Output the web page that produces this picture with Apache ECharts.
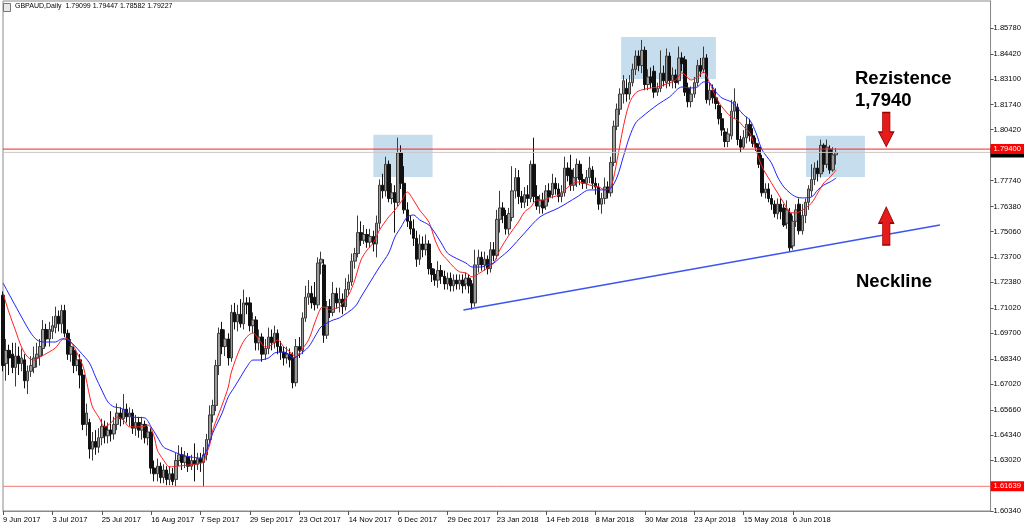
<!DOCTYPE html>
<html>
<head>
<meta charset="utf-8">
<script src="https://cdn.jsdelivr.net/npm/echarts@6/dist/echarts.min.js"></script>
<style>html,body{margin:0;padding:0;background:#fff}#c{width:1024px;height:530px}</style>
</head>
<body>
<div id="c"></div>
<script>
// ---- data (daily bars, index 0 = 9 Jun 2017) ----
const xLabels = ['9 Jun 2017','3 Jul 2017','25 Jul 2017','16 Aug 2017','7 Sep 2017','29 Sep 2017','23 Oct 2017','14 Nov 2017','6 Dec 2017','29 Dec 2017','23 Jan 2018','14 Feb 2018','8 Mar 2018','30 Mar 2018','23 Apr 2018','15 May 2018','6 Jun 2018'];
const barsPerLabel = 16;
const yTickLabels = ['1.60340','1.63020','1.64340','1.65660','1.67020','1.68340','1.69700','1.71020','1.72380','1.73700','1.75060','1.76380','1.77740','1.80420','1.81740','1.83100','1.84420','1.85780'];
const yTickMarks = ['1.60340','1.61660','1.63020','1.64340','1.65660','1.67020','1.68340','1.69700','1.71020','1.72380','1.73700','1.75060','1.76380','1.77740','1.79060','1.80420','1.81740','1.83100','1.84420','1.85780'];

const opens = [
1.717,1.681,1.688,1.686,1.679,1.685,1.681,1.683,1.672,1.677,
1.679,1.684,1.685,1.689,1.699,1.694,1.698,1.700,1.706,1.702,
1.709,1.697,1.686,1.688,1.680,1.683,1.675,1.649,1.650,1.636,
1.640,1.637,1.642,1.648,1.643,1.646,1.644,1.649,1.655,1.652,
1.657,1.653,1.655,1.647,1.650,1.646,1.649,1.642,1.645,1.626,
1.623,1.627,1.621,1.625,1.620,1.623,1.620,1.630,1.633,1.629,
1.632,1.627,1.630,1.628,1.631,1.629,1.633,1.641,1.654,1.659,
1.680,1.699,1.690,1.694,1.684,1.708,1.703,1.707,1.702,1.713,
1.713,1.701,1.704,1.692,1.695,1.686,1.689,1.695,1.692,1.697,
1.690,1.687,1.684,1.686,1.684,1.671,1.690,1.688,1.705,1.716,
1.718,1.716,1.712,1.734,1.733,1.696,1.711,1.708,1.718,1.713,
1.715,1.711,1.720,1.724,1.735,1.739,1.750,1.746,1.749,1.745,
1.748,1.744,1.755,1.775,1.772,1.786,1.768,1.771,1.766,1.792,
1.776,1.762,1.756,1.752,1.747,1.736,1.744,1.741,1.744,1.731,
1.728,1.725,1.730,1.727,1.723,1.726,1.722,1.725,1.723,1.725,
1.723,1.726,1.723,1.713,1.733,1.737,1.733,1.736,1.731,1.741,
1.738,1.757,1.763,1.759,1.752,1.758,1.772,1.779,1.769,1.766,
1.770,1.768,1.786,1.769,1.764,1.767,1.764,1.772,1.770,1.776,
1.773,1.769,1.771,1.784,1.783,1.775,1.779,1.786,1.778,1.776,
1.779,1.783,1.776,1.774,1.765,1.768,1.774,1.771,1.787,1.806,
1.815,1.823,1.826,1.823,1.829,1.836,1.843,1.838,1.846,1.828,
1.832,1.835,1.824,1.826,1.834,1.829,1.843,1.830,1.833,1.830,
1.842,1.841,1.826,1.819,1.823,1.829,1.838,1.836,1.842,1.820,
1.825,1.821,1.817,1.810,1.803,1.798,1.801,1.814,1.816,1.799,
1.795,1.800,1.807,1.801,1.797,1.795,1.789,1.771,1.773,1.768,
1.765,1.760,1.765,1.763,1.755,1.760,1.743,1.756,1.765,1.751,
1.759,1.766,1.772,1.778,1.784,1.781,1.796,1.786,1.794,1.783,
1.79099];
const highs = [
1.719,1.694,1.691,1.692,1.692,1.690,1.689,1.686,1.680,1.685,
1.690,1.692,1.694,1.704,1.702,1.703,1.706,1.711,1.709,1.712,
1.712,1.699,1.694,1.690,1.687,1.686,1.678,1.660,1.652,1.645,
1.646,1.647,1.652,1.651,1.650,1.656,1.653,1.660,1.658,1.665,
1.660,1.658,1.657,1.654,1.653,1.653,1.651,1.648,1.647,1.630,
1.631,1.629,1.628,1.627,1.627,1.626,1.634,1.638,1.637,1.635,
1.634,1.633,1.639,1.634,1.634,1.637,1.644,1.659,1.662,1.683,
1.700,1.703,1.699,1.697,1.712,1.713,1.712,1.715,1.720,1.716,
1.716,1.708,1.706,1.699,1.697,1.694,1.700,1.699,1.701,1.699,
1.693,1.690,1.690,1.689,1.687,1.694,1.695,1.708,1.722,1.725,
1.722,1.724,1.737,1.740,1.736,1.714,1.715,1.724,1.721,1.721,
1.718,1.726,1.728,1.739,1.742,1.759,1.756,1.754,1.752,1.752,
1.751,1.759,1.778,1.781,1.790,1.788,1.776,1.775,1.800,1.796,
1.785,1.766,1.759,1.757,1.751,1.749,1.748,1.749,1.746,1.734,
1.731,1.735,1.733,1.730,1.729,1.729,1.728,1.728,1.728,1.728,
1.729,1.728,1.725,1.741,1.741,1.740,1.740,1.738,1.745,1.745,
1.762,1.772,1.766,1.762,1.763,1.785,1.784,1.783,1.772,1.774,
1.775,1.788,1.800,1.775,1.770,1.771,1.775,1.776,1.781,1.779,
1.776,1.775,1.790,1.787,1.791,1.784,1.789,1.788,1.781,1.783,
1.790,1.785,1.779,1.776,1.771,1.779,1.777,1.790,1.809,1.818,
1.826,1.833,1.831,1.833,1.839,1.846,1.846,1.8515,1.848,1.836,
1.837,1.838,1.829,1.846,1.838,1.847,1.845,1.837,1.836,1.848,
1.845,1.843,1.829,1.827,1.832,1.841,1.842,1.848,1.844,1.829,
1.828,1.826,1.819,1.813,1.805,1.805,1.820,1.826,1.818,1.801,
1.804,1.811,1.810,1.805,1.800,1.797,1.791,1.776,1.776,1.770,
1.767,1.768,1.768,1.765,1.767,1.763,1.759,1.765,1.768,1.765,
1.768,1.775,1.786,1.787,1.788,1.799,1.797,1.799,1.796,1.795,
1.79447];
const lows = [
1.677,1.672,1.675,1.676,1.669,1.675,1.677,1.668,1.665,1.674,
1.676,1.679,1.680,1.685,1.690,1.690,1.694,1.697,1.698,1.697,
1.695,1.683,1.682,1.676,1.677,1.668,1.646,1.643,1.631,1.630,
1.633,1.634,1.638,1.639,1.639,1.640,1.641,1.646,1.648,1.649,
1.650,1.648,1.644,1.643,1.642,1.641,1.639,1.638,1.623,1.619,
1.619,1.618,1.618,1.617,1.617,1.617,1.6164,1.627,1.625,1.626,
1.624,1.625,1.619,1.625,1.624,1.6164,1.630,1.639,1.650,1.656,
1.675,1.686,1.685,1.680,1.682,1.699,1.698,1.700,1.699,1.707,
1.698,1.697,1.688,1.688,1.682,1.683,1.686,1.688,1.689,1.686,
1.683,1.680,1.681,1.679,1.668,1.669,1.684,1.686,1.703,1.712,
1.710,1.709,1.710,1.728,1.692,1.694,1.705,1.706,1.710,1.708,
1.707,1.709,1.717,1.722,1.731,1.737,1.743,1.744,1.742,1.742,
1.740,1.737,1.752,1.768,1.769,1.766,1.765,1.750,1.764,1.773,
1.760,1.753,1.749,1.743,1.732,1.733,1.737,1.738,1.728,1.724,
1.722,1.721,1.723,1.720,1.720,1.719,1.719,1.720,1.720,1.718,
1.720,1.718,1.7095,1.711,1.729,1.730,1.730,1.728,1.729,1.735,
1.736,1.750,1.755,1.749,1.749,1.756,1.768,1.765,1.763,1.763,
1.764,1.766,1.766,1.762,1.760,1.760,1.762,1.766,1.768,1.770,
1.766,1.766,1.769,1.777,1.772,1.772,1.774,1.775,1.773,1.773,
1.776,1.773,1.770,1.762,1.760,1.765,1.768,1.769,1.785,1.804,
1.812,1.818,1.819,1.820,1.827,1.833,1.835,1.834,1.825,1.825,
1.826,1.821,1.822,1.824,1.827,1.826,1.827,1.826,1.826,1.828,
1.835,1.822,1.816,1.816,1.821,1.827,1.832,1.834,1.818,1.817,
1.818,1.815,1.807,1.801,1.795,1.795,1.799,1.810,1.796,1.792,
1.794,1.797,1.798,1.795,1.793,1.784,1.769,1.768,1.766,1.762,
1.758,1.757,1.757,1.753,1.752,1.7398,1.741,1.753,1.749,1.749,
1.755,1.762,1.769,1.775,1.777,1.779,1.782,1.784,1.781,1.782,
1.78582];
const closes = [
1.680,1.688,1.684,1.679,1.685,1.681,1.684,1.672,1.677,1.680,
1.684,1.686,1.690,1.699,1.694,1.699,1.701,1.706,1.702,1.709,
1.697,1.686,1.690,1.680,1.683,1.675,1.649,1.655,1.636,1.640,
1.637,1.642,1.648,1.643,1.646,1.644,1.649,1.655,1.652,1.657,
1.653,1.655,1.647,1.650,1.646,1.649,1.642,1.645,1.626,1.623,
1.627,1.621,1.625,1.620,1.623,1.619,1.630,1.633,1.629,1.632,
1.627,1.630,1.628,1.631,1.629,1.633,1.641,1.654,1.659,1.680,
1.697,1.690,1.694,1.684,1.708,1.703,1.707,1.702,1.713,1.712,
1.701,1.704,1.692,1.695,1.686,1.689,1.695,1.692,1.697,1.690,
1.687,1.684,1.686,1.683,1.671,1.690,1.688,1.705,1.716,1.718,
1.713,1.712,1.734,1.736,1.696,1.711,1.708,1.718,1.713,1.715,
1.711,1.720,1.724,1.735,1.739,1.750,1.746,1.749,1.745,1.748,
1.744,1.755,1.775,1.772,1.786,1.768,1.771,1.766,1.792,1.776,
1.762,1.756,1.752,1.747,1.736,1.744,1.741,1.744,1.731,1.728,
1.725,1.730,1.727,1.723,1.726,1.722,1.725,1.723,1.725,1.722,
1.726,1.722,1.713,1.733,1.737,1.733,1.736,1.731,1.741,1.738,
1.757,1.763,1.759,1.752,1.760,1.772,1.779,1.769,1.766,1.770,
1.768,1.786,1.769,1.764,1.767,1.763,1.772,1.769,1.776,1.773,
1.769,1.771,1.784,1.780,1.775,1.779,1.786,1.778,1.776,1.779,
1.784,1.776,1.774,1.765,1.768,1.774,1.771,1.787,1.806,1.815,
1.823,1.830,1.823,1.829,1.836,1.843,1.838,1.846,1.828,1.832,
1.829,1.824,1.826,1.834,1.830,1.843,1.830,1.833,1.829,1.842,
1.839,1.824,1.819,1.823,1.829,1.838,1.835,1.842,1.820,1.825,
1.821,1.818,1.810,1.804,1.798,1.802,1.814,1.819,1.799,1.795,
1.800,1.807,1.801,1.797,1.795,1.786,1.771,1.773,1.768,1.765,
1.760,1.765,1.761,1.754,1.762,1.742,1.756,1.762,1.751,1.759,
1.766,1.773,1.778,1.784,1.781,1.796,1.786,1.795,1.783,1.791,
1.79227];

// moving averages: [bar index, price]
const maRed = [[0,1.7182],[2,1.7077],[4,1.6987],[6,1.6898],[8,1.6845],[10,1.6829],[12,1.6845],[15,1.6872],[17,1.6893],[19,1.6935],[20,1.6945],[22,1.6924],[24,1.6866],[26,1.6793],[27,1.6724],[28,1.6645],[29,1.6582],[31,1.6529],[33,1.6477],[35,1.6498],[37,1.6529],[39,1.6513],[41,1.6477],[45,1.6477],[47,1.6487],[49,1.6424],[50,1.6355],[52,1.6303],[54,1.6266],[57,1.6271],[60,1.6276],[63,1.6282],[65,1.6292],[66,1.6340],[67,1.6382],[68,1.6461],[71,1.6592],[73,1.6687],[74,1.6766],[77,1.6898],[79,1.6951],[81,1.6972],[83,1.6935],[85,1.6898],[87,1.6908],[89,1.6935],[91,1.6898],[93,1.6872],[95,1.6845],[96,1.6866],[99,1.6935],[101,1.7024],[103,1.7103],[104,1.7108],[106,1.7093],[108,1.7103],[109,1.7108],[112,1.7172],[114,1.7251],[116,1.7356],[118,1.7409],[120,1.7446],[122,1.7514],[125,1.7583],[127,1.7619],[129,1.7662],[131,1.7714],[133,1.7672],[135,1.7619],[138,1.7556],[140,1.7461],[142,1.7393],[144,1.7356],[146,1.7319],[148,1.7293],[150,1.7288],[152,1.7267],[155,1.7293],[157,1.7314],[159,1.7340],[161,1.7409],[164,1.7488],[167,1.7556],[169,1.7609],[171,1.7635],[173,1.7672],[175,1.7672],[177,1.7683],[180,1.7698],[182,1.7725],[184,1.7751],[186,1.7767],[188,1.7762],[190,1.7751],[193,1.7741],[195,1.7725],[197,1.7741],[199,1.7883],[201,1.8057],[203,1.8183],[205,1.8236],[207,1.8252],[210,1.8262],[212,1.8267],[214,1.8278],[216,1.8288],[218,1.8304],[220,1.8341],[223,1.8304],[225,1.8320],[227,1.8346],[229,1.8288],[231,1.8215],[233,1.8162],[236,1.8109],[238,1.8093],[240,1.8057],[242,1.8025],[244,1.7935],[246,1.7846],[249,1.7762],[251,1.7709],[253,1.7656],[255,1.7609],[257,1.7604],[259,1.7619],[262,1.7656],[264,1.7709],[266,1.7762],[268,1.7793],[270,1.7830]];
const maBlue = [[0,1.7235],[3,1.7145],[6,1.7056],[9,1.6972],[11,1.6935],[13,1.6924],[17,1.6924],[19,1.6940],[21,1.6935],[23,1.6908],[25,1.6872],[28,1.6814],[30,1.6740],[32,1.6671],[34,1.6608],[36,1.6582],[38,1.6577],[40,1.6556],[42,1.6529],[46,1.6524],[48,1.6477],[50,1.6424],[52,1.6371],[54,1.6355],[58,1.6329],[61,1.6318],[64,1.6313],[66,1.6355],[68,1.6445],[71,1.6550],[73,1.6635],[75,1.6687],[77,1.6740],[79,1.6793],[81,1.6829],[83,1.6829],[86,1.6840],[88,1.6866],[90,1.6872],[92,1.6866],[94,1.6840],[96,1.6856],[99,1.6898],[101,1.6950],[103,1.7003],[105,1.7024],[107,1.7040],[109,1.7051],[114,1.7109],[116,1.7161],[118,1.7214],[120,1.7267],[122,1.7319],[125,1.7393],[127,1.7477],[129,1.7530],[131,1.7583],[133,1.7593],[135,1.7567],[138,1.7540],[140,1.7498],[142,1.7446],[144,1.7393],[146,1.7372],[148,1.7356],[150,1.7340],[152,1.7319],[155,1.7319],[157,1.7330],[159,1.7340],[161,1.7367],[164,1.7409],[169,1.7498],[174,1.7583],[180,1.7630],[186,1.7688],[190,1.7725],[195,1.7725],[197,1.7735],[199,1.7793],[201,1.7899],[203,1.8004],[205,1.8078],[207,1.8109],[212,1.8173],[216,1.8215],[220,1.8267],[223,1.8262],[225,1.8267],[227,1.8294],[229,1.8288],[231,1.8241],[233,1.8209],[236,1.8188],[238,1.8157],[240,1.8120],[242,1.8093],[244,1.8025],[246,1.7935],[249,1.7867],[251,1.7793],[253,1.7741],[255,1.7709],[257,1.7688],[259,1.7683],[262,1.7688],[264,1.7725],[266,1.7751],[268,1.7767],[270,1.7788]];

const neckline = [[149.2,1.7093],[303.6,1.7540]];
const resistance = 1.7940;
const bidPrice = 1.79227;
const lowLevel = 1.61639;
// highlighted zones: [startBar, endBar, lowPrice, highPrice]
const zones = [[120,139.2,1.7793,1.8015],[200.3,231,1.8309,1.8531],[260.2,279.3,1.7793,1.8010]];
// arrow annotations: [bar, price]
const arrowDown = [286.2,1.8043];
const arrowUp = [286.2,1.7535];

// ---- build ----
const candleData = opens.map((o,i)=>[i,o,closes[i],lows[i],highs[i]]);
const FONT = '"Liberation Sans", Arial, sans-serif';
const X_MAX = 320;
const chart = echarts.init(document.getElementById('c'), null, {renderer:'canvas'});
function levelSeries(v, lineColor, bg, z){
  return {
    type:'line',data:[[0,v],[X_MAX,v]],silent:true,z:z,showSymbol:false,symbol:'none',clip:false,
    lineStyle:{color:lineColor,width:1,type:'solid'},
    emphasis:{disabled:true},
    endLabel:{show:true,distance:0,formatter:v.toFixed(5),color:'#fff',backgroundColor:bg,padding:[1,4,1,3],fontSize:7.6,fontFamily:FONT}
  };
}
const option = {
  animation:false,
  backgroundColor:'#ffffff',
  grid:{left:2,right:33,top:1,bottom:19,show:true,borderColor:'#8a8a8a',borderWidth:1,backgroundColor:'#fff'},
  xAxis:{
    type:'value',min:0,max:X_MAX,
    axisLine:{show:true,onZero:false,lineStyle:{color:'#8a8a8a'}},
    splitLine:{show:false},
    axisTick:{show:true,length:4,customValues:xLabels.map((_,k)=>k*barsPerLabel),lineStyle:{color:'#555'}},
    axisLabel:{show:true,customValues:xLabels.map((_,k)=>k*barsPerLabel),formatter:v=>xLabels[Math.round(v/barsPerLabel)]||'',align:'left',margin:5,fontSize:7.6,color:'#000',fontFamily:FONT}
  },
  yAxis:{
    type:'value',position:'right',min:1.6034,max:1.8720,scale:true,
    axisLine:{show:true,onZero:false,lineStyle:{color:'#8a8a8a'}},
    splitLine:{show:false},
    axisTick:{show:true,inside:false,length:3,customValues:yTickMarks.map(Number),lineStyle:{color:'#555'}},
    axisLabel:{show:true,customValues:yTickLabels.map(Number),formatter:v=>v.toFixed(5),margin:3,fontSize:7.6,color:'#000',fontFamily:FONT}
  },
  series:[
    {
      type:'line',data:[],silent:true,z:1,
      markArea:{silent:true,z:1,itemStyle:{color:'#c6ddee'},
        data:zones.map(z=>[{coord:[z[0],z[3]]},{coord:[z[1],z[2]]}])}
    },
    {
      type:'candlestick',data:candleData,barWidth:3,z:2,silent:true,
      itemStyle:{color:'#9b9b9b',color0:'#111111',borderColor:'#3c3c3c',borderColor0:'#111111',borderWidth:1}
    },
    {type:'line',data:maRed,smooth:0.3,showSymbol:false,silent:true,z:3,lineStyle:{color:'#ff1f1f',width:1}},
    {type:'line',data:maBlue,smooth:0.3,showSymbol:false,silent:true,z:3,lineStyle:{color:'#2222ff',width:1}},
    {type:'line',data:neckline,showSymbol:false,silent:true,z:4,lineStyle:{color:'#3d55ee',width:1.5}},
    levelSeries(bidPrice,'#c8c8c8','#000000',5),
    levelSeries(resistance,'#ff2020','#ff0000',6),
    levelSeries(lowLevel,'#f07878','#ff0000',6),
    {
      type:'line',data:[],silent:true,z:7,
      markPoint:{silent:true,z:7,label:{show:false},
        itemStyle:{color:'#e51c1c',borderColor:'#9a0000',borderWidth:1},
        data:[
          {coord:arrowDown,symbol:'path://M3.5,0 L10.5,0 L10.5,19 L14,19 L7,33 L0,19 L3.5,19 Z',symbolSize:[15,34]},
          {coord:arrowUp,symbol:'path://M7,0 L14,14 L10.5,14 L10.5,33 L3.5,33 L3.5,14 L0,14 Z',symbolSize:[15,38]}
        ]}
    }
  ],
  graphic:[
    {type:'rect',left:3,top:3,shape:{width:7,height:8},style:{fill:'#e8e8e8',stroke:'#777',lineWidth:1},z:10},
    {type:'text',left:15,top:3,style:{text:'GBPAUD,Daily  1.79099 1.79447 1.78582 1.79227',fill:'#000',font:'7px '+FONT},z:10},
    {type:'text',left:855,top:69,style:{text:'Rezistence',fill:'#000',font:'bold 18.5px '+FONT},z:10},
    {type:'text',left:855,top:91,style:{text:'1,7940',fill:'#000',font:'bold 18.5px '+FONT},z:10},
    {type:'text',left:856,top:272,style:{text:'Neckline',fill:'#000',font:'bold 18.5px '+FONT},z:10}
  ]
};
chart.setOption(option);
</script>
</body>
</html>
